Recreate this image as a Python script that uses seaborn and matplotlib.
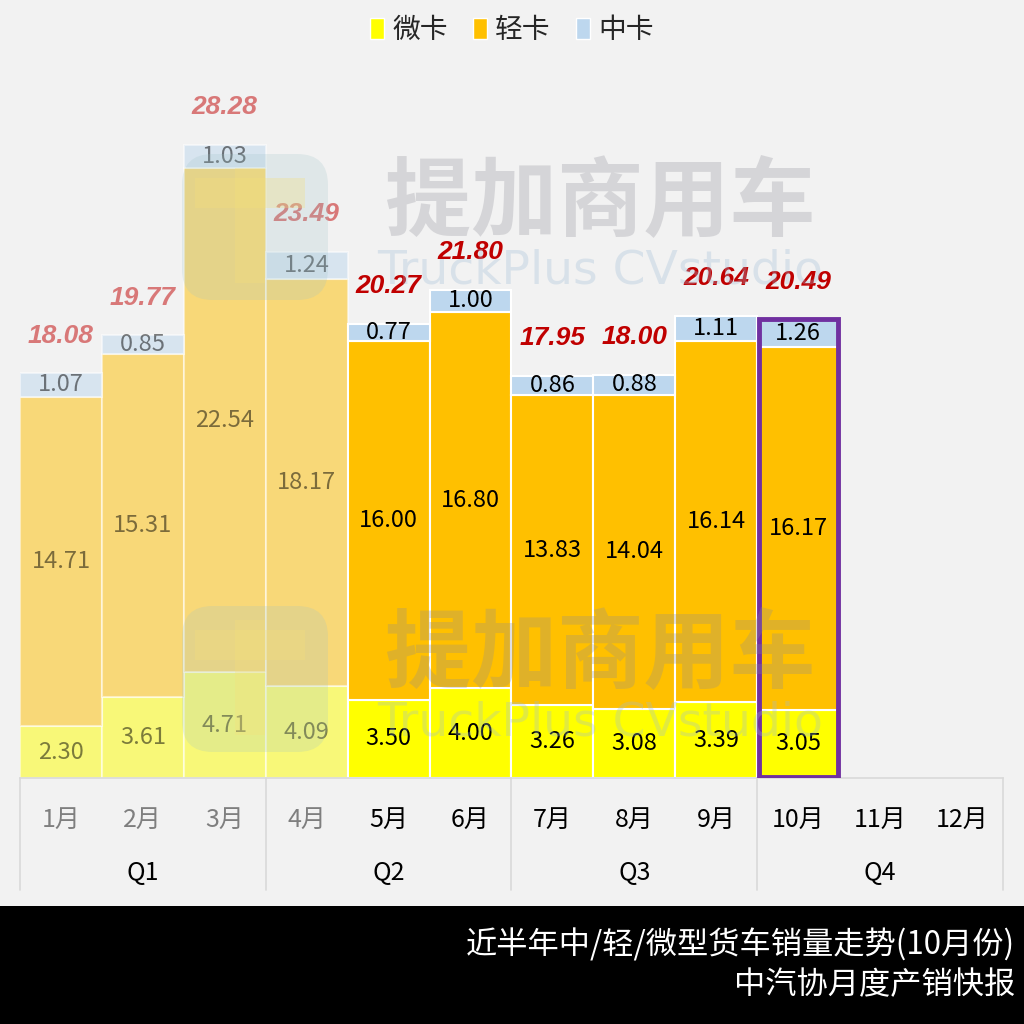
import matplotlib
matplotlib.use("Agg")
import matplotlib.pyplot as plt
import seaborn as sns
import pandas as pd
import numpy as np
from matplotlib.patches import Rectangle, FancyBboxPatch

# data (万辆)
months = ["1月", "2月", "3月", "4月", "5月", "6月", "7月", "8月", "9月", "10月", "11月", "12月"]
quarters = ["Q1", "Q2", "Q3", "Q4"]
mini = [2.30, 3.61, 4.71, 4.09, 3.50, 4.00, 3.26, 3.08, 3.39, 3.05]
light = [14.71, 15.31, 22.54, 18.17, 16.00, 16.80, 13.83, 14.04, 16.14, 16.17]
medium = [1.07, 0.85, 1.03, 1.24, 0.77, 1.00, 0.86, 0.88, 1.11, 1.26]
totals = [18.08, 19.77, 28.28, 23.49, 20.27, 21.80, 17.95, 18.00, 20.64, 20.49]
series_names = ["微卡", "轻卡", "中卡"]
n_faded = 4          # months shown greyed out
highlight = "10月"
title_lines = ["近半年中/轻/微型货车销量走势(10月份)", "中汽协月度产销快报"]

colors = ["#FFFF00", "#FFC000", "#BDD7EE"]
bg = "#F2F2F2"

sns.set_style("white")
plt.rcParams["font.family"] = ["Noto Sans CJK SC", "DejaVu Sans"]

fig = plt.figure(figsize=(10.24, 10.24), dpi=100, facecolor=bg)
ax = fig.add_axes([20 / 1024, 1 - 778 / 1024, 983 / 1024, 678 / 1024])
ax.set_facecolor(bg)

df = pd.DataFrame({"月份": months[:len(mini)], "微卡": mini, "轻卡": light, "中卡": medium})

bottom = np.zeros(len(df))
for name, c in zip(series_names, colors):
    sns.barplot(data=df, x="月份", y=name, order=months, color=c, saturation=1,
                width=1.0, bottom=bottom, errorbar=None, edgecolor="white",
                linewidth=1.5, ax=ax)
    for i, v in enumerate(df[name]):
        a = 0.5 if i < n_faded else 1.0
        ax.text(i, bottom[i] + v / 2, f"{v:.2f}", ha="center", va="center",
                fontsize=17, color="black", alpha=a, zorder=5)
    bottom = bottom + df[name].values

# fade first months
nb = len(df)
for k, p in enumerate(ax.patches):
    if k % nb < n_faded:
        p.set_alpha(0.5)

# totals
for i, t in enumerate(totals):
    a = 0.5 if i < n_faded else 1.0
    ax.annotate(f"{t:.2f}", (i, t), xytext=(0, 27), textcoords="offset points",
                ha="center", va="center", fontsize=19, fontweight="bold",
                fontstyle="italic", family="Liberation Sans", color="#C00000",
                alpha=a, zorder=6)

# highlighted month
hi = months.index(highlight)
ax.add_patch(Rectangle((hi - 0.48, 0.05), 0.96, totals[hi] - 0.05, fill=False,
                       edgecolor="#7030A0", linewidth=3.5, zorder=7))

ax.set_xlim(-0.5, 11.5)
ax.set_ylim(0, 678 / 22.4)
ax.set_xlabel("")
ax.set_ylabel("")
ax.set_yticks([])
ax.set_xticks(range(len(months)))
ax.set_xticklabels(months, fontsize=18)
ax.tick_params(axis="x", length=0, pad=21)
for i, lab in enumerate(ax.get_xticklabels()):
    lab.set_color("#7F7F7F" if i < n_faded else "black")
for s in ["top", "right", "left"]:
    ax.spines[s].set_visible(False)
ax.spines["bottom"].set_color("#D9D9D9")
ax.spines["bottom"].set_linewidth(1.2)

# quarter groups
tr = ax.get_xaxis_transform()
for q, name in enumerate(quarters):
    ax.text(q * 3 + 1, -95 / 678, name, transform=tr, ha="center", va="center",
            fontsize=18, color="black")
for q in range(len(quarters) + 1):
    ax.plot([q * 3 - 0.5, q * 3 - 0.5], [0, -112 / 678], transform=tr,
            color="#D9D9D9", linewidth=1.2, clip_on=False)

# legend
handles = [Rectangle((0, 0), 1, 1, facecolor=c, edgecolor="white") for c in colors]
fig.legend(handles, series_names, loc="center", bbox_to_anchor=(0.5, 1 - 30 / 1024),
           ncol=3, frameon=False, fontsize=20, handlelength=0.5, handleheight=0.8,
           handletextpad=0.3, columnspacing=0.9)

# watermark
for yc in [203, 655]:
    fig.text(600 / 1024, 1 - yc / 1024, "提加商用车", ha="center", va="center",
             fontsize=62, fontweight="bold", color="#8C8C96", alpha=0.28, zorder=10)
    fig.text(600 / 1024, 1 - (yc + 68) / 1024, "TruckPlus CVstudio", ha="center",
             va="center", fontsize=34, family="DejaVu Sans", color="#9DBBD6",
             alpha=0.3, zorder=10)
    fig.add_artist(FancyBboxPatch((182 / 1024, 1 - (yc + 97) / 1024), 146 / 1024, 146 / 1024,
                                  boxstyle="round,pad=0,rounding_size=0.03",
                                  transform=fig.transFigure, facecolor="#9DC3C6",
                                  edgecolor="none", alpha=0.22, zorder=10))
    fig.add_artist(Rectangle((235 / 1024, 1 - (yc + 80) / 1024), 30 / 1024, 115 / 1024,
                             transform=fig.transFigure, facecolor="#F5E07A",
                             edgecolor="none", alpha=0.3, zorder=10))
    fig.add_artist(Rectangle((195 / 1024, 1 - (yc + 5) / 1024), 110 / 1024, 30 / 1024,
                             transform=fig.transFigure, facecolor="#F5E07A",
                             edgecolor="none", alpha=0.3, zorder=10))

# bottom band
fig.add_artist(Rectangle((0, 0), 1, 118 / 1024, transform=fig.transFigure,
                         facecolor="black", edgecolor="none", zorder=0))
fig.text(1015 / 1024, 1 - 945 / 1024, title_lines[0], ha="right", va="center",
         fontsize=22.5, color="white")
fig.text(1015 / 1024, 1 - 985 / 1024, title_lines[1], ha="right", va="center",
         fontsize=22.5, color="white")

fig.savefig("out.png", dpi=100, facecolor=bg)
